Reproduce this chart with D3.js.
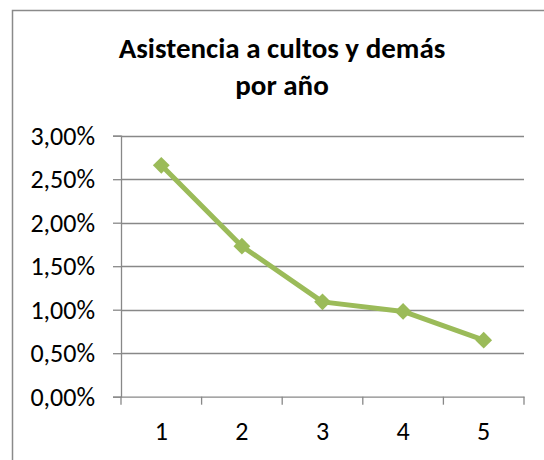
<!DOCTYPE html>
<html><head><meta charset="utf-8">
<script src="https://cdn.jsdelivr.net/npm/d3@7"></script>
<style>body{margin:0;background:#fff}svg{display:block}</style>
</head><body>
<svg id="c" width="544" height="460"></svg>
<script>
const titleLines = ["Asistencia a cultos y demás", "por año"];
const categories = ["1", "2", "3", "4", "5"];
const values = [0.0266, 0.0173, 0.0109, 0.0098, 0.0065];
const yTicks = [0, 0.005, 0.01, 0.015, 0.02, 0.025, 0.03];

const svg = d3.select("#c");
const font = "Carlito, Calibri, 'Open Sans', sans-serif";
const gridColor = "#888888";
const lineColor = "#9BBB59";

// chart border
svg.append("rect").attr("x", 12.5).attr("y", 10.5).attr("width", 560).attr("height", 480)
  .attr("fill", "#fff").attr("stroke", "#8a8a8a").attr("stroke-width", 1.5);

const pL = 121, pR = 524, pT = 135.7, pB = 396.7;
const x = d3.scaleBand().domain(categories).range([pL, pR]);
const y = d3.scaleLinear().domain([0, 0.03]).range([pB, pT]);

// title
svg.append("g").selectAll("text").data(titleLines).join("text")
  .attr("x", 282).attr("y", (d, i) => 58 + i * 37)
  .attr("text-anchor", "middle").attr("font-family", font)
  .attr("font-weight", "bold").attr("font-size", 29).attr("fill", "#000")
  .text(d => d);

// gridlines
svg.append("g").selectAll("line").data(yTicks.slice(1)).join("line")
  .attr("x1", pL).attr("x2", pR)
  .attr("y1", d => Math.round(y(d)) + 0.5).attr("y2", d => Math.round(y(d)) + 0.5)
  .attr("stroke", gridColor).attr("stroke-width", 1.3);

// y axis
const fmt = d => (d * 100).toFixed(2).replace(".", ",") + "%";
const yAxis = svg.append("g").attr("transform", `translate(${pL},0)`)
  .call(d3.axisLeft(y).tickValues(yTicks).tickFormat(fmt).tickSize(8).tickPadding(18));
yAxis.select(".domain").attr("stroke", gridColor).attr("stroke-width", 1.3);
yAxis.selectAll(".tick line").attr("stroke", gridColor).attr("stroke-width", 1.3);
yAxis.selectAll("text").attr("font-family", font).attr("font-size", 26).attr("fill", "#000");

// x axis
const xAxis = svg.append("g").attr("transform", `translate(0,${pB})`)
  .call(d3.axisBottom(x).tickSize(0).tickPadding(25));
xAxis.select(".domain").attr("stroke", gridColor).attr("stroke-width", 1.3);
xAxis.selectAll("text").attr("font-family", font).attr("font-size", 26).attr("fill", "#000");
// boundary tick marks
const bounds = categories.map(c => x(c)).concat([x(categories[categories.length - 1]) + x.bandwidth()]);
xAxis.selectAll(".btick").data(bounds).join("line").attr("class", "btick")
  .attr("x1", d => d).attr("x2", d => d).attr("y1", 0).attr("y2", 8)
  .attr("stroke", gridColor).attr("stroke-width", 1.3);

// line
const cx = d => x(d) + x.bandwidth() / 2;
const line = d3.line().x((d, i) => cx(categories[i])).y(d => y(d));
svg.append("path").datum(values).attr("d", line)
  .attr("fill", "none").attr("stroke", lineColor).attr("stroke-width", 5)
  .attr("stroke-linejoin", "round");

// markers
const sym = d3.symbol().type(d3.symbolDiamond2).size(180);
svg.append("g").selectAll("path").data(values).join("path")
  .attr("transform", (d, i) => `translate(${cx(categories[i])},${y(d)})`)
  .attr("d", sym).attr("fill", lineColor);
</script>
</body></html>
